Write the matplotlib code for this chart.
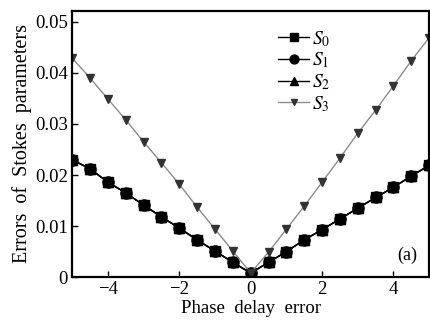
import matplotlib
matplotlib.use("Agg")
import matplotlib.pyplot as plt
from matplotlib.ticker import FixedLocator, FixedFormatter

plt.rcParams['font.family'] = ['Liberation Serif', 'DejaVu Serif']
plt.rcParams['mathtext.fontset'] = 'stix'

x = [-5, -4.5, -4, -3.5, -3, -2.5, -2, -1.5, -1, -0.5, 0,
     0.5, 1, 1.5, 2, 2.5, 3, 3.5, 4, 4.5, 5]
s012 = [0.0230, 0.0212, 0.0186, 0.0165, 0.0141, 0.0118, 0.0096, 0.0073, 0.0051, 0.0029, 0.0008,
        0.0029, 0.0050, 0.0073, 0.0093, 0.0114, 0.0135, 0.0156, 0.0176, 0.0198, 0.0219]
s3 = [0.0429, 0.0390, 0.0349, 0.0308, 0.0265, 0.0224, 0.0182, 0.0137, 0.0094, 0.0051, 0.0008,
      0.0049, 0.0094, 0.0139, 0.0186, 0.0233, 0.0282, 0.0327, 0.0375, 0.0424, 0.0469]
labels = ['$S_0$', '$S_1$', '$S_2$', '$S_3$']
xticks = [-4, -2, 0, 2, 4]
xticklabels = ['\u22124', '\u22122', '0', '2', '4']
yticks = [0, 0.01, 0.02, 0.03, 0.04, 0.05]
yticklabels = ['0', '0.01', '0.02', '0.03', '0.04', '0.05']

fig = plt.figure(figsize=(4.3, 3.23), dpi=100)
ax = fig.add_axes([0.168, 0.142, 0.830, 0.825])

ax.plot(x, s012, color='black', lw=1.0, marker='s', ms=7, label=labels[0])
ax.plot(x, s012, color='black', lw=1.0, marker='o', ms=8, label=labels[1])
ax.plot(x, s012, color='black', lw=1.0, marker='^', ms=7, label=labels[2])
ax.plot(x, s3, color='#8c8c8c', lw=1.0, marker='v', ms=5.5, mfc='#333333', mec='#333333', label=labels[3])

ax.set_xlim(-5, 5)
ax.set_ylim(0, 0.0522)
ax.xaxis.set_major_locator(FixedLocator(xticks))
ax.xaxis.set_major_formatter(FixedFormatter(xticklabels))
ax.yaxis.set_major_locator(FixedLocator(yticks))
ax.yaxis.set_major_formatter(FixedFormatter(yticklabels))
ax.tick_params(direction='in', length=4, width=1, labelsize=13.5, pad=3)
for sp in ax.spines.values():
    sp.set_linewidth(1.6)

ax.set_xlabel('Phase  delay  error', fontsize=13.5, labelpad=1)
ax.set_ylabel('Errors  of  Stokes  parameters', fontsize=14.5, labelpad=2)
ax.text(4.1, 0.0034, '(a)', fontsize=13)

leg = ax.legend(loc='upper left', bbox_to_anchor=(0.555, 0.96), frameon=False,
                fontsize=14, handlelength=1.6, handletextpad=0.15, labelspacing=0.1,
                borderaxespad=0, markerscale=0.8)
fig.savefig('out.png', dpi=100)
